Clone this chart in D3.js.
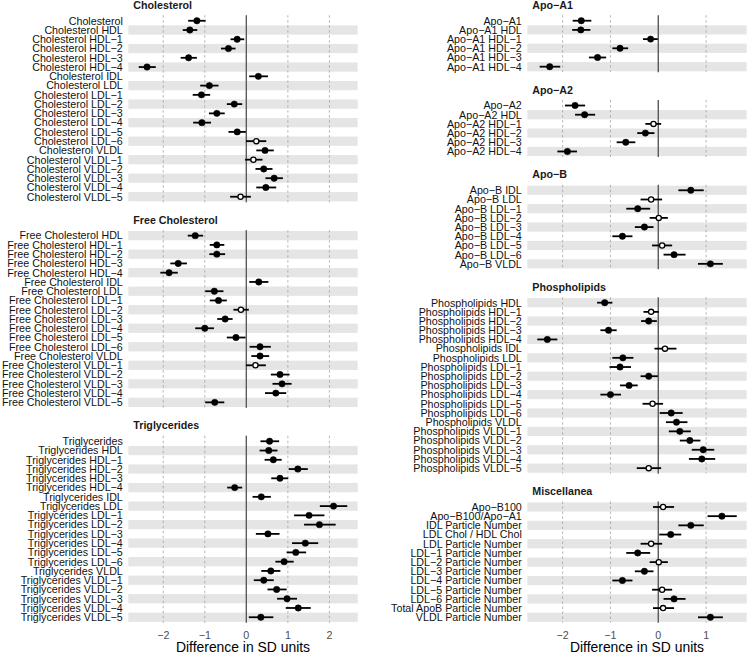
<!DOCTYPE html>
<html><head><meta charset="utf-8">
<script src="https://cdn.jsdelivr.net/npm/d3@7"></script>
<style>body{margin:0;background:#fff} text{font-family:"Liberation Sans",Arial,Helvetica,sans-serif}</style>
</head><body><svg id="c" width="747" height="654"></svg>
<script>
// ---------- DATA ----------
const cholLabels = ["Cholesterol","Cholesterol HDL","Cholesterol HDL−1","Cholesterol HDL−2","Cholesterol HDL−3","Cholesterol HDL−4","Cholesterol IDL","Cholesterol LDL","Cholesterol LDL−1","Cholesterol LDL−2","Cholesterol LDL−3","Cholesterol LDL−4","Cholesterol LDL−5","Cholesterol LDL−6","Cholesterol VLDL","Cholesterol VLDL−1","Cholesterol VLDL−2","Cholesterol VLDL−3","Cholesterol VLDL−4","Cholesterol VLDL−5"];
const cholEst = [-1.19,-1.36,-0.22,-0.43,-1.39,-2.39,0.29,-0.89,-1.08,-0.29,-0.71,-1.07,-0.22,0.24,0.45,0.17,0.42,0.67,0.47,-0.14];
const cholLo  = [-1.40,-1.53,-0.38,-0.61,-1.58,-2.59,0.07,-1.11,-1.29,-0.47,-0.90,-1.28,-0.43,-0.01,0.24,-0.03,0.22,0.46,0.24,-0.39];
const cholHi  = [-0.98,-1.18,-0.05,-0.26,-1.19,-2.18,0.52,-0.67,-0.87,-0.10,-0.52,-0.85,-0.01,0.48,0.66,0.39,0.63,0.88,0.72,0.11];

const fcLabels = ["Free Cholesterol HDL","Free Cholesterol HDL−1","Free Cholesterol HDL−2","Free Cholesterol HDL−3","Free Cholesterol HDL−4","Free Cholesterol IDL","Free Cholesterol LDL","Free Cholesterol LDL−1","Free Cholesterol LDL−2","Free Cholesterol LDL−3","Free Cholesterol LDL−4","Free Cholesterol LDL−5","Free Cholesterol LDL−6","Free Cholesterol VLDL","Free Cholesterol VLDL−1","Free Cholesterol VLDL−2","Free Cholesterol VLDL−3","Free Cholesterol VLDL−4","Free Cholesterol VLDL−5"];
const fcEst = [-1.23,-0.71,-0.71,-1.64,-1.86,0.30,-0.77,-0.67,-0.13,-0.51,-1.00,-0.25,0.33,0.33,0.22,0.81,0.86,0.71,-0.76];
const fcLo  = [-1.41,-0.88,-0.89,-1.83,-2.07,0.07,-0.99,-0.88,-0.31,-0.70,-1.23,-0.47,0.08,0.12,-0.01,0.59,0.63,0.45,-0.99];
const fcHi  = [-1.04,-0.53,-0.51,-1.43,-1.65,0.53,-0.55,-0.47,0.06,-0.33,-0.78,-0.02,0.59,0.55,0.47,1.04,1.09,0.96,-0.53];

const tgLabels = ["Triglycerides","Triglycerides HDL","Triglycerides HDL−1","Triglycerides HDL−2","Triglycerides HDL−3","Triglycerides HDL−4","Triglycerides IDL","Triglycerides LDL","Triglycerides LDL−1","Triglycerides LDL−2","Triglycerides LDL−3","Triglycerides LDL−4","Triglycerides LDL−5","Triglycerides LDL−6","Triglycerides VLDL","Triglycerides VLDL−1","Triglycerides VLDL−2","Triglycerides VLDL−3","Triglycerides VLDL−4","Triglycerides VLDL−5"];
const tgEst = [0.56,0.54,0.65,1.24,0.81,-0.28,0.36,2.10,1.51,1.76,0.52,1.42,1.19,0.91,0.59,0.42,0.73,0.98,1.25,0.35];
const tgLo  = [0.34,0.32,0.44,1.02,0.60,-0.46,0.15,1.77,1.15,1.39,0.23,1.10,0.97,0.70,0.36,0.18,0.51,0.74,0.95,0.06];
const tgHi  = [0.79,0.75,0.85,1.48,1.01,-0.10,0.59,2.43,1.88,2.15,0.80,1.73,1.44,1.14,0.82,0.66,0.97,1.22,1.55,0.65];

const a1Labels = ["Apo−A1","Apo−A1 HDL","Apo−A1 HDL−1","Apo−A1 HDL−2","Apo−A1 HDL−3","Apo−A1 HDL−4"];
const a1Est = [-1.61,-1.62,-0.16,-0.80,-1.27,-2.27];
const a1Lo  = [-1.79,-1.80,-0.32,-0.96,-1.45,-2.48];
const a1Hi  = [-1.40,-1.42,-0.01,-0.63,-1.09,-2.05];

const a2Labels = ["Apo−A2","Apo−A2 HDL","Apo−A2 HDL−1","Apo−A2 HDL−2","Apo−A2 HDL−3","Apo−A2 HDL−4"];
const a2Est = [-1.74,-1.54,-0.10,-0.27,-0.68,-1.90];
const a2Lo  = [-1.95,-1.74,-0.27,-0.44,-0.87,-2.11];
const a2Hi  = [-1.53,-1.32,0.06,-0.08,-0.48,-1.70];

const abLabels = ["Apo−B IDL","Apo−B LDL","Apo−B LDL−1","Apo−B LDL−2","Apo−B LDL−3","Apo−B LDL−4","Apo−B LDL−5","Apo−B LDL−6","Apo−B VLDL"];
const abEst = [0.68,-0.15,-0.43,0.01,-0.29,-0.75,0.08,0.33,1.09];
const abLo  = [0.42,-0.37,-0.67,-0.18,-0.49,-0.96,-0.13,0.11,0.83];
const abHi  = [0.95,0.08,-0.17,0.20,-0.10,-0.54,0.29,0.57,1.35];

const plLabels = ["Phospholipids HDL","Phospholipids HDL−1","Phospholipids HDL−2","Phospholipids HDL−3","Phospholipids HDL−4","Phospholipids IDL","Phospholipids LDL","Phospholipids LDL−1","Phospholipids LDL−2","Phospholipids LDL−3","Phospholipids LDL−4","Phospholipids LDL−5","Phospholipids LDL−6","Phospholipids VLDL","Phospholipids VLDL−1","Phospholipids VLDL−2","Phospholipids VLDL−3","Phospholipids VLDL−4","Phospholipids VLDL−5"];
const plEst = [-1.12,-0.15,-0.20,-1.04,-2.32,0.14,-0.74,-0.80,-0.20,-0.61,-1.00,-0.12,0.27,0.38,0.45,0.66,0.94,0.91,-0.20];
const plLo  = [-1.28,-0.31,-0.36,-1.21,-2.53,-0.08,-0.96,-1.02,-0.37,-0.80,-1.21,-0.33,0.03,0.16,0.22,0.45,0.70,0.64,-0.45];
const plHi  = [-0.96,0.01,-0.03,-0.87,-2.11,0.38,-0.52,-0.57,-0.01,-0.43,-0.78,0.10,0.51,0.61,0.68,0.88,1.17,1.19,0.06];

const miscLabels = ["Apo−B100","Apo−B100/Apo−A1","IDL Particle Number","LDL Chol / HDL Chol","LDL Particle Number","LDL−1 Particle Number","LDL−2 Particle Number","LDL−3 Particle Number","LDL−4 Particle Number","LDL−5 Particle Number","LDL−6 Particle Number","Total ApoB Particle Number","VLDL Particle Number"];
const miscEst = [0.10,1.33,0.68,0.26,-0.15,-0.43,0.01,-0.29,-0.75,0.08,0.33,0.10,1.09];
const miscLo  = [-0.11,1.03,0.42,0.02,-0.37,-0.67,-0.18,-0.49,-0.96,-0.13,0.11,-0.11,0.83];
const miscHi  = [0.33,1.64,0.95,0.48,0.08,-0.17,0.20,-0.10,-0.54,0.29,0.57,0.33,1.35];

const xTicks = [-2,-1,0,1,2];
const xTitle = "Difference in SD units";

// ---------- LAYOUT ----------
const columns = [
  {x0:128.3, x1:357.7, panels:[
    {title:"Cholesterol", labels:cholLabels, est:cholEst, lo:cholLo, hi:cholHi},
    {title:"Free Cholesterol", labels:fcLabels, est:fcEst, lo:fcLo, hi:fcHi},
    {title:"Triglycerides", labels:tgLabels, est:tgEst, lo:tgLo, hi:tgHi}]},
  {x0:527.3, x1:746.7, panels:[
    {title:"Apo−A1", labels:a1Labels, est:a1Est, lo:a1Lo, hi:a1Hi},
    {title:"Apo−A2", labels:a2Labels, est:a2Est, lo:a2Lo, hi:a2Hi},
    {title:"Apo−B", labels:abLabels, est:abEst, lo:abLo, hi:abHi},
    {title:"Phospholipids", labels:plLabels, est:plEst, lo:plLo, hi:plHi},
    {title:"Miscellanea", labels:miscLabels, est:miscEst, lo:miscLo, hi:miscHi}]}
];
const TOP = 15.2, BOTTOM = 622.8, GAP = 27.8;

const svg = d3.select("#c");

columns.forEach(col => {
  const allLo = d3.min(col.panels, p => d3.min(p.lo));
  const allHi = d3.max(col.panels, p => d3.max(p.hi));
  const pad = (allHi - allLo) * 0.05;
  const x = d3.scaleLinear().domain([allLo - pad, allHi + pad]).range([col.x0, col.x1]);
  const units = d3.sum(col.panels, p => p.labels.length + 0.2);
  const step = (BOTTOM - TOP - GAP * (col.panels.length - 1)) / units;
  const ticks = xTicks.filter(t => t >= x.domain()[0] && t <= x.domain()[1]);

  let yTop = TOP;
  col.panels.forEach(p => {
    const n = p.labels.length;
    const h = (n + 0.2) * step;
    const y = d3.scalePoint().domain(p.labels).range([yTop, yTop + h]).padding(0.6);
    const g = svg.append("g");
    const rows = p.labels.map((l, i) => ({label:l, est:p.est[i], lo:p.lo[i], hi:p.hi[i], i}));

    // alternating bands (bottom row shaded)
    g.selectAll("rect.band").data(rows.filter(r => (n - 1 - r.i) % 2 === 0)).join("rect")
      .attr("x", col.x0).attr("width", col.x1 - col.x0)
      .attr("y", r => y(r.label) - step / 2).attr("height", step)
      .attr("fill", "#e5e5e5");

    // dashed gridlines
    g.selectAll("line.grid").data(ticks.filter(t => t !== 0)).join("line")
      .attr("x1", d => x(d)).attr("x2", d => x(d))
      .attr("y1", yTop).attr("y2", yTop + h)
      .attr("stroke", "#9a9a9a").attr("stroke-width", 0.7).attr("stroke-dasharray", "2.5,2.5");

    // zero line
    g.append("line").attr("x1", x(0)).attr("x2", x(0)).attr("y1", yTop).attr("y2", yTop + h)
      .attr("stroke", "#5a5a5a").attr("stroke-width", 1.4);

    // title
    g.append("text").attr("x", col.x0 + 5).attr("y", yTop - 6.4)
      .attr("font-size", "10.7px").attr("font-weight", "bold").attr("fill", "#1a1a1a").text(p.title);

    // labels
    g.selectAll("text.lab").data(rows).join("text")
      .attr("x", col.x0 - 5.5).attr("y", r => y(r.label)).attr("dy", "0.36em")
      .attr("text-anchor", "end").attr("font-size", "10.7px").attr("fill", "#111").text(r => r.label);

    // error bars
    g.selectAll("line.ci").data(rows).join("line")
      .attr("x1", r => x(r.lo)).attr("x2", r => x(r.hi))
      .attr("y1", r => y(r.label)).attr("y2", r => y(r.label))
      .attr("stroke", "#000").attr("stroke-width", 1.8);

    // points
    g.selectAll("circle").data(rows).join("circle")
      .attr("cx", r => x(r.est)).attr("cy", r => y(r.label))
      .attr("r", r => (r.lo <= 0 && r.hi >= 0) ? 2.6 : 3.2)
      .attr("fill", r => (r.lo <= 0 && r.hi >= 0) ? "#fff" : "#000")
      .attr("stroke", "#000").attr("stroke-width", r => (r.lo <= 0 && r.hi >= 0) ? 1.3 : 0.5);

    yTop += h + GAP;
  });

  // x axis tick labels
  svg.append("g").selectAll("text").data(ticks).join("text")
    .attr("x", d => x(d)).attr("y", 639).attr("text-anchor", "middle")
    .attr("font-size", "10.7px").attr("fill", "#4d4d4d")
    .text(d => d < 0 ? "−" + Math.abs(d) : String(d));

  svg.append("text").attr("x", (col.x0 + col.x1) / 2).attr("y", 651.5)
    .attr("text-anchor", "middle").attr("font-size", "13.9px").attr("fill", "#000").text(xTitle);
});
</script></body></html>
